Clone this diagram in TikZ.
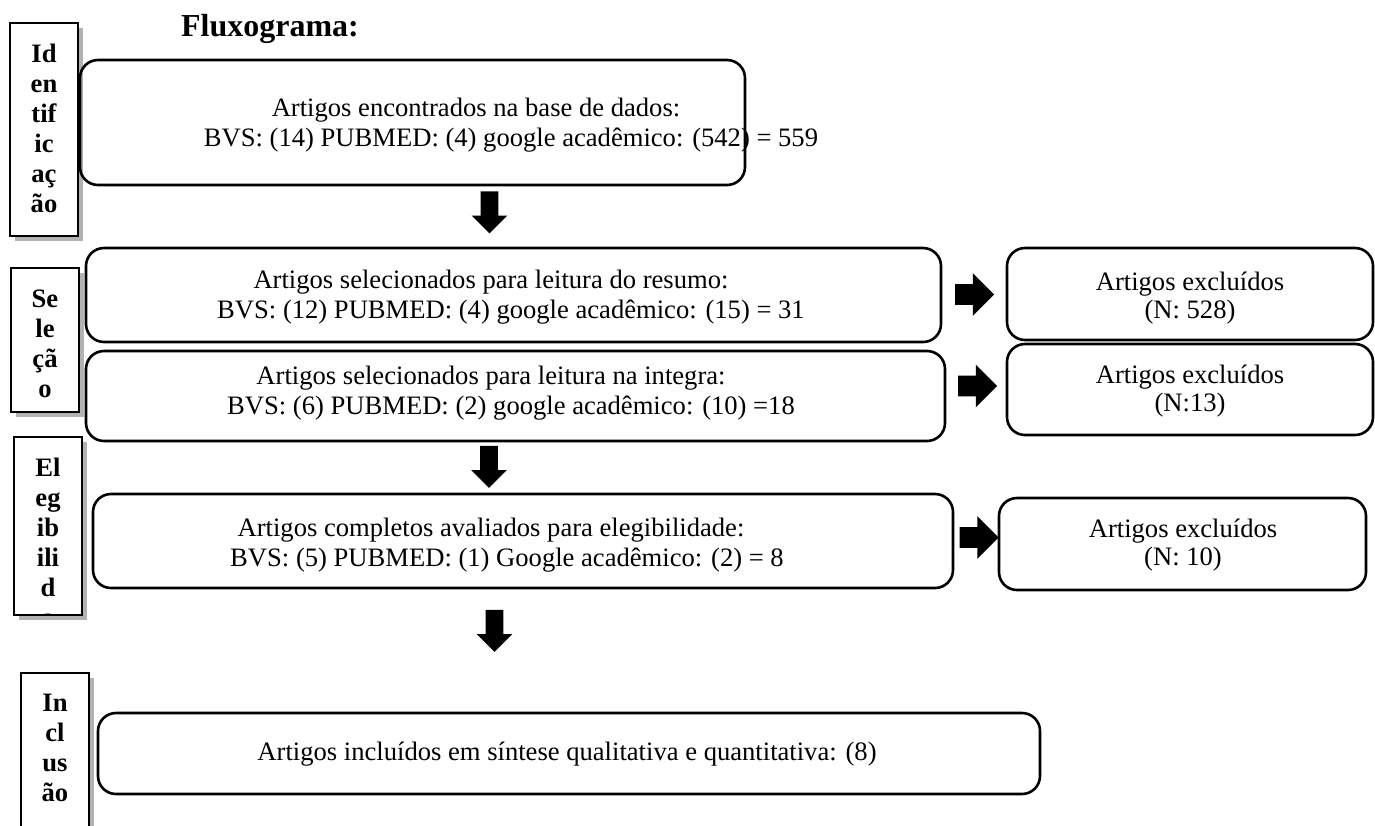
\documentclass[tikz,border=0pt]{standalone}
\usepackage{fontspec}
\setmainfont{Liberation Serif}
\usetikzlibrary{fit,shadows,shapes.arrows}
\tikzset{
  mainbox/.style={draw, line width=1.3pt, rounded corners=9pt, inner sep=0pt},
  sidebox/.style={draw, line width=1pt, inner sep=0pt, fill=white,
    drop shadow={shadow xshift=2.5pt, shadow yshift=-2.5pt, opacity=0.3, fill=black}},
  txt/.style={align=center, font=\fontsize{13.3}{15}\selectfont, inner sep=0pt},
  extxt/.style={align=center, font=\fontsize{13.3}{14}\selectfont, inner sep=0pt},
  sidetxt/.style={align=center, font=\bfseries\fontsize{13.3}{15}\selectfont, inner sep=0pt, anchor=north},
  downarrow/.style={single arrow, fill=black, inner xsep=0pt, inner ysep=4.25pt, rotate=-90,
    minimum height=21pt, single arrow head extend=4.5pt},
  rightarrow/.style={single arrow, fill=black, inner xsep=0pt, inner ysep=5pt,
    minimum height=19.5pt, single arrow head extend=5.5pt}
}
\begin{document}
\begin{tikzpicture}[x=0.5pt, y=-0.5pt]
\useasboundingbox (0,0) rectangle (1375,825);
\clip (0,0) rectangle (1375,825);
\fill[white] (0,0) rectangle (1375,825);

% title
\node[anchor=base, font=\bfseries\fontsize{16}{19}\selectfont, inner sep=0pt] (title) at (270,36) {Fluxograma:};

% side boxes
\node[sidebox, fit={(10,23) (78,236)}] (sid) {};
\node[sidetxt] (sidt) at (sid.north |- 0,44) {Id\\en\\tif\\ic\\aç\\ão};
\node[sidebox, fit={(11,268) (79,412)}] (sse) {};
\node[sidetxt] (sset) at (sse.north |- 0,289) {Se\\le\\çã\\o};
\node[sidebox, fit={(14,437) (82,615)}] (sel) {};
\begin{scope}
\clip (15,438) rectangle (81,614);
\node[sidetxt] (selt) at (sel.north |- 0,458) {El\\eg\\ib\\ili\\d\\a};
\end{scope}
\node[sidebox, fit={(21,673) (89,850)}] (sin) {};
\node[sidetxt] (sint) at (sin.north |- 0,694) {In\\cl\\us\\ão};

% main boxes
\node[mainbox, fit={(80,60) (745,185)}] (b1) {};
\node[txt] (b1t) at (511,125) {Artigos encontrados na base de dados:\hspace*{35pt}\\BVS: (14) PUBMED: (4) google acadêmico: (542) = 559};
\node[mainbox, fit={(86,248) (941,342)}] (b2) {};
\node[txt] (b2t) at (511,297) {Artigos selecionados para leitura do resumo:\hspace*{20pt}\\BVS: (12) PUBMED: (4) google acadêmico: (15) = 31};
\node[mainbox, fit={(86,351) (945,441)}] (b3) {};
\node[txt] (b3t) at (511,393) {Artigos selecionados para leitura na integra:\hspace*{20pt}\\BVS: (6) PUBMED: (2) google acadêmico: (10) =18};
\node[mainbox, fit={(93,494) (953,588)}] (b4) {};
\node[txt] (b4t) at (507,545) {Artigos completos avaliados para elegibilidade:\hspace*{16pt}\\BVS: (5) PUBMED: (1) Google acadêmico: (2) = 8};
\node[mainbox, fit={(98,713) (1040,794)}] (b5) {};
\node[txt] (b5t) at (567,754) {Artigos incluídos em síntese qualitativa e quantitativa: (8)};

% excluded boxes
\node[mainbox, fit={(1007,248) (1373,340)}] (e1) {};
\node[extxt] (e1t) at (1190,298) {Artigos excluídos\\(N: 528)};
\node[mainbox, fit={(1007,344) (1373,435)}] (e2) {};
\node[extxt] (e2t) at (1190,391) {Artigos excluídos\\(N:13)};
\node[mainbox, fit={(999,498) (1366,590)}] (e3) {};
\node[extxt] (e3t) at (1183,545) {Artigos excluídos\\(N: 10)};

% block arrows
\node[downarrow] (d1) at (489.5,208) {};
\node[downarrow] (d2) at (489,462.5) {};
\node[downarrow] (d3) at (494.5,626.5) {};
\node[rightarrow] (r1) at (969.5,294.5) {};
\node[rightarrow] (r2) at (972.5,386) {};
\node[rightarrow] (r3) at (974,537.5) {};
\end{tikzpicture}
\end{document}
